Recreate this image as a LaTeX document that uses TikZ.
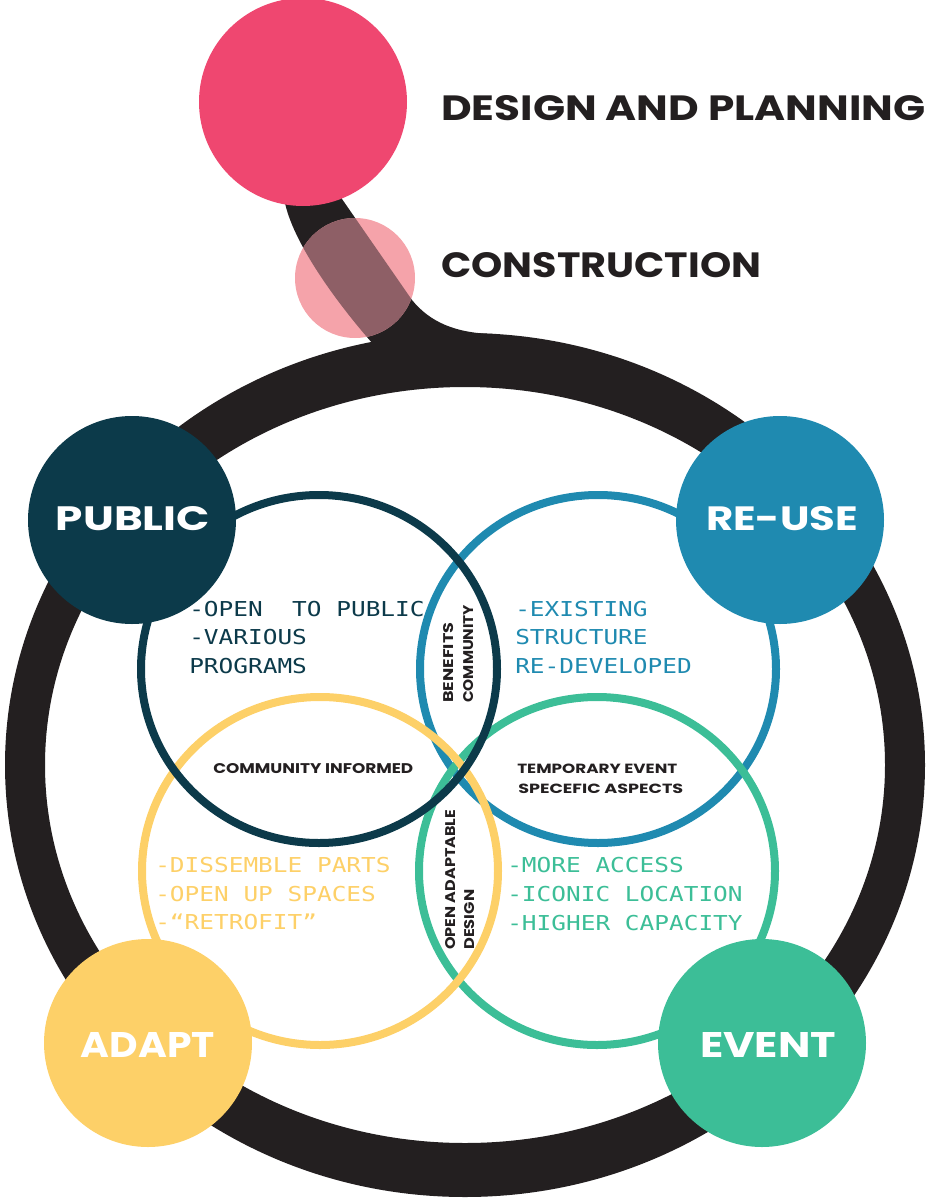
\documentclass[tikz,border=0pt]{standalone}
\usepackage{fontspec}
\usepackage{graphicx}
\usetikzlibrary{shapes.geometric}

\newfontfamily\headfont{Poppins}
\newfontfamily\bodyfont{DejaVu Sans Mono}[FakeStretch=1.19]

% one drawing unit = 0.75pt
\newlength\pxu
\setlength\pxu{0.75pt}
\newcommand\fitpx[3]{\resizebox{#1\pxu}{#2\pxu}{#3}}

\definecolor{ringblack}{HTML}{231F20}
\definecolor{rose}{HTML}{EF4770}
\definecolor{blush}{HTML}{F5A3AA}
\definecolor{blushdark}{HTML}{8E5F66}
\definecolor{deepteal}{HTML}{0C3A4A}
\definecolor{ocean}{HTML}{1F8AB0}
\definecolor{sun}{HTML}{FDD068}
\definecolor{mint}{HTML}{3CBE97}

% outline of the stem joining the stage circles to the loop
\newcommand\stemshape{(282,186) -- (285,203) .. controls (293,240) and (330,295) .. (373,344)
  -- (493,350) -- (493,334) .. controls (455,333) and (430,322) .. (412,300)
  -- (342,199) -- (340,186) -- cycle}

\tikzset{
  hub/.style={circle, fill=#1, minimum size=156pt, inner sep=0pt},
  venn/.style={ellipse, draw=#1, line width=6pt, minimum width=267pt, minimum height=261pt, inner sep=0pt},
  txt/.style={anchor=base west, inner sep=0pt, font=\bodyfont\fontsize{15.4}{18}\selectfont, text=#1},
  tag/.style={anchor=base west, inner sep=0pt, text=ringblack, font=\headfont\bfseries},
  hubtag/.style={anchor=base, inner sep=0pt, text=white, font=\headfont\bfseries},
}

\begin{document}
\begin{tikzpicture}[x=0.75pt, y=-0.75pt]
\useasboundingbox (0,0) rectangle (930,1199);

% main loop
\fill[ringblack, even odd rule] (465,765) ellipse [x radius=460, y radius=432]
                                (465,765) ellipse [x radius=420, y radius=378];

% stem and stage circles
\fill[ringblack] \stemshape;
\node[hub=blush, minimum size=90pt] (build) at (355,278) {};
\begin{scope}
  \clip (355,278) circle [radius=60];
  \fill[blushdark] \stemshape;
\end{scope}
\node[hub=rose] (plan) at (303,102) {};

\node[tag] (plantxt) at (441,120) {\fitpx{484}{25}{DESIGN AND PLANNING}};
\node[tag] (buildtxt) at (441,277) {\fitpx{320}{25}{CONSTRUCTION}};

% overlapping rings
\node[venn=ocean] (vreuse) at (598,669) {};
\node[venn=mint] (vevent) at (597,871) {};
\node[venn=sun] (vadapt) at (320,871) {};
\node[venn=deepteal] (vpublic) at (319,669) {};

% corner circles
\node[hub=deepteal] (public) at (132,520) {};
\node[hub=ocean] (reuse) at (780,520) {};
\node[hub=sun] (adapt) at (148,1043) {};
\node[hub=mint] (event) at (762,1043) {};

\node[hubtag] (publictxt) at (133,530) {\fitpx{154}{24}{PUBLIC}};
\node[hubtag] (reusetxt) at (782,530) {\fitpx{152}{24}{RE-USE}};
\node[hubtag] (adapttxt) at (148,1057) {\fitpx{134}{25}{ADAPT}};
\node[hubtag] (eventtxt) at (768,1057) {\fitpx{136}{25}{EVENT}};

% ring contents
\node[txt=deepteal] (pub1) at (189,616) {-OPEN\ \ TO PUBLIC};
\node[txt=deepteal] (pub2) at (189,644) {-VARIOUS};
\node[txt=deepteal] (pub3) at (189,673) {PROGRAMS};

\node[txt=ocean] (reu1) at (515,616) {-EXISTING};
\node[txt=ocean] (reu2) at (515,644) {STRUCTURE};
\node[txt=ocean] (reu3) at (515,673) {RE-DEVELOPED};

\node[txt=sun] (ada1) at (155,872) {-DISSEMBLE PARTS};
\node[txt=sun] (ada2) at (155,901) {-OPEN UP SPACES};
\node[txt=sun] (ada3) at (155,929) {-“RETROFIT”};

\node[txt=mint] (evt1) at (507,872) {-MORE ACCESS};
\node[txt=mint] (evt2) at (507,901) {-ICONIC LOCATION};
\node[txt=mint] (evt3) at (507,930) {-HIGHER CAPACITY};

% overlap labels
\node[tag] (informed) at (213,773) {\fitpx{200}{10}{COMMUNITY INFORMED}};
\node[tag] (temp1) at (517,773) {\fitpx{160}{9.5}{TEMPORARY EVENT}};
\node[tag] (temp2) at (518,793) {\fitpx{165}{9.5}{SPECEFIC ASPECTS}};
\node[tag, rotate=90] (ben1) at (453,703) {\fitpx{80}{10}{BENEFITS}};
\node[tag, rotate=90] (ben2) at (473,703) {\fitpx{98}{10}{COMMUNITY}};
\node[tag, rotate=90] (open1) at (455,950) {\fitpx{140}{10}{OPEN ADAPTABLE}};
\node[tag, rotate=90] (open2) at (474,950) {\fitpx{60}{10}{DESIGN}};
\end{tikzpicture}
\end{document}
